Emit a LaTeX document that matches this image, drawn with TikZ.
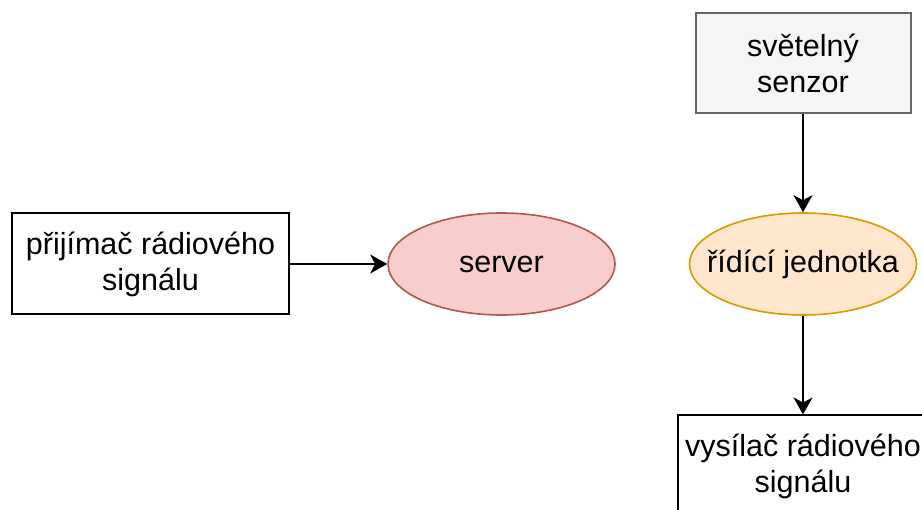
\documentclass[tikz,border=0pt]{standalone}
\usepackage{fontspec}
\setmainfont{Liberation Sans}
\usetikzlibrary{shapes.geometric,arrows.meta}
\definecolor{grayfill}{HTML}{F5F5F5}
\definecolor{graystroke}{HTML}{666666}
\definecolor{orangefill}{HTML}{FFE6CC}
\definecolor{orangestroke}{HTML}{D79B00}
\definecolor{redfill}{HTML}{F8CECC}
\definecolor{redstroke}{HTML}{B85450}
% label in a zero-width box, so an ellipse keeps its fixed size
\newcommand\ovaltext[1]{\makebox[0pt][c]{#1}}
\tikzset{
  labelfont/.style={font=\fontsize{30.5}{36}\selectfont},
  box/.style={draw=black, line width=2pt, fill=white, minimum width=277pt, minimum height=101pt,
    align=center, inner sep=0pt, labelfont},
  graybox/.style={box, draw=graystroke, fill=grayfill, minimum width=215pt, minimum height=100pt},
  oval/.style={ellipse, line width=1.6pt, minimum width=227pt, minimum height=102pt,
    inner sep=0pt, labelfont},
  link/.style={line width=2pt, -{Stealth[length=17pt,width=19pt,inset=5pt]}}
}
\begin{document}
\begin{tikzpicture}[x=1pt,y=-1pt]
\useasboundingbox (0,0) rectangle (922,510);
\clip (0,0) rectangle (922,510);
\node[graybox] (sensor) at (803,63) {světelný\\senzor};
\node[oval, draw=orangestroke, fill=orangefill] (control) at (803,264) {\ovaltext{řídící jednotka}};
\node[box, minimum width=250pt] (transmitter) at (803,466) {vysílač rádiového\\signálu};
\node[box] (receiver) at (150.5,264) {přijímač rádiového\\signálu};
\node[oval, draw=redstroke, fill=redfill] (server) at (501.5,264) {\ovaltext{server}};
\draw[link] (sensor) -- (control);
\draw[link] (control) -- (transmitter);
\draw[link] (receiver) -- (server);
\end{tikzpicture}
\end{document}
